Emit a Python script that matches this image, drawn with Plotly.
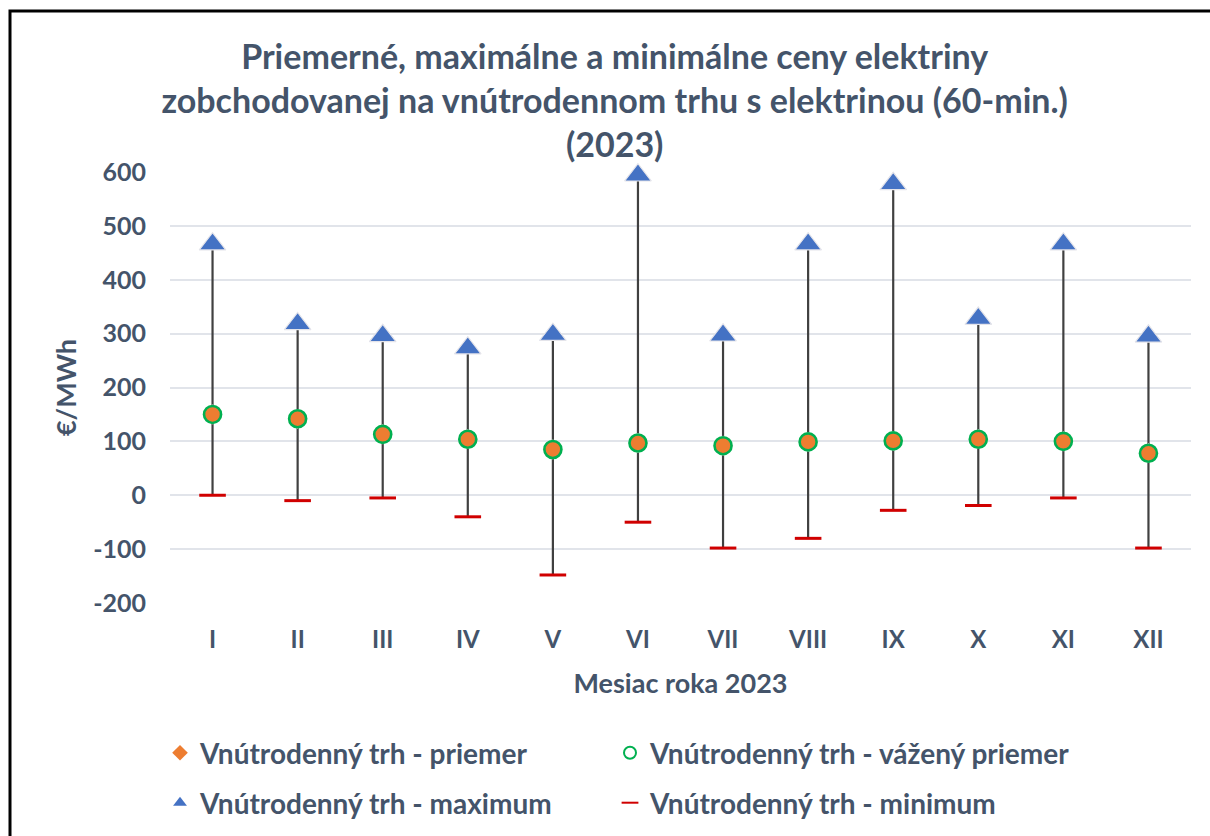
import plotly.graph_objects as go

months = ["I", "II", "III", "IV", "V", "VI", "VII", "VIII", "IX", "X", "XI", "XII"]
avg_price = [150, 142, 113, 104, 85, 97, 92, 99, 101, 104, 100, 78]
weighted_avg = [150, 142, 113, 104, 85, 97, 92, 99, 101, 104, 100, 78]
max_price = [466, 318, 296, 273, 298, 594, 297, 466, 578, 328, 466, 295]
min_price = [0, -10, -5, -40, -148, -50, -98, -80, -28, -19, -5, -98]
y_ticks = [-200, -100, 0, 100, 200, 300, 400, 500, 600]
y_tick_labels = ["-200", "-100", "0", "100", "200", "300", "400", "500", "600"]

title_text = ("Priemerné, maximálne a minimálne ceny elektriny<br>"
              "zobchodovanej na vnútrodennom trhu s elektrinou (60-min.)<br>(2023)")
names = ["Vnútrodenný trh - priemer", "Vnútrodenný trh - vážený priemer",
         "Vnútrodenný trh - maximum", "Vnútrodenný trh - minimum"]

FONT = "Lato"
TXT = "#44546A"

W, H = 1210, 836
ML, MR, MT, MB = 170, 19, 172, 233

fig = go.Figure()

# high-low lines
fig.add_trace(go.Scatter(
    x=months, y=min_price, mode="markers",
    marker=dict(size=1, color="rgba(0,0,0,0)"),
    error_y=dict(type="data", symmetric=False,
                 array=[mx - mn for mx, mn in zip(max_price, min_price)],
                 arrayminus=[0] * len(months),
                 width=0, thickness=2.2, color="#404040"),
    showlegend=False, hoverinfo="skip", cliponaxis=False))

# average (orange)
fig.add_trace(go.Scatter(
    x=months, y=avg_price, mode="markers",
    marker=dict(symbol="diamond", size=15, color="#ED7D31",
                line=dict(width=1, color="#F2F2F2")),
    showlegend=False, name=names[0], cliponaxis=False))
fig.add_trace(go.Scatter(
    x=months, y=avg_price, mode="markers",
    marker=dict(symbol="circle", size=16, color="#ED7D31", line=dict(width=0)),
    showlegend=False, hoverinfo="skip", cliponaxis=False))
# weighted average ring
fig.add_trace(go.Scatter(
    x=months, y=weighted_avg, mode="markers",
    marker=dict(symbol="circle-open", size=17, color="#00B050", line=dict(width=2.6, color="#00B050")),
    showlegend=False, name=names[1], cliponaxis=False))
# max
fig.add_trace(go.Scatter(
    x=months, y=max_price, mode="markers",
    marker=dict(symbol="triangle-up", size=23, color="#4472C4",
                line=dict(width=1.2, color="#E4E4EA")),
    showlegend=False, name=names[2], cliponaxis=False))
# min
fig.add_trace(go.Scatter(
    x=months, y=min_price, mode="markers",
    marker=dict(symbol="line-ew", size=19, color="#D00000",
                line=dict(width=3, color="#D00000")),
    showlegend=False, name=names[3], cliponaxis=False))

# legend entries (one legend per entry, placed in a 2x2 grid)
fig.add_trace(go.Scatter(x=[None], y=[None], mode="markers", name=names[0], legend="legend",
                         marker=dict(symbol="diamond", size=10, color="#ED7D31")))
fig.add_trace(go.Scatter(x=[None], y=[None], mode="markers", name=names[1], legend="legend2",
                         marker=dict(symbol="circle-open", size=12, color="#00B050",
                                     line=dict(width=2, color="#00B050"))))
fig.add_trace(go.Scatter(x=[None], y=[None], mode="markers", name=names[2], legend="legend3",
                         marker=dict(symbol="triangle-up", size=11, color="#4472C4")))
fig.add_trace(go.Scatter(x=[None], y=[None], mode="markers", name=names[3], legend="legend4",
                         marker=dict(symbol="line-ew", size=10, color="#D00000",
                                     line=dict(width=2.5, color="#D00000"))))

pw = W - ML - MR
ph = H - MT - MB
def px_x(p):
    return (p - ML) / pw
def px_y(p):
    return (H - MB - p) / ph

fig.add_shape(type="path", xref="paper", yref="paper",
              path=f"M {px_x(10)} {px_y(H + 20)} L {px_x(10)} {px_y(11)} L {px_x(W + 20)} {px_y(11)}",
              line=dict(color="#000000", width=3))

LEG_FONT = dict(family=FONT, size=28, color=TXT, weight="bold")
def legend_cfg(xleft, ycenter):
    return dict(orientation="h", x=px_x(xleft), xanchor="left", y=px_y(ycenter), yanchor="middle",
                font=LEG_FONT, itemsizing="constant", bgcolor="rgba(0,0,0,0)")

fig.update_layout(
    width=W, height=H,
    margin=dict(l=ML, r=MR, t=MT, b=MB, autoexpand=False),
    paper_bgcolor="white", plot_bgcolor="white",
    font=dict(family=FONT, color=TXT),
    title=dict(text=title_text, x=0.508, xanchor="center", xref="container",
               y=1 - 69 / H, yanchor="top", yref="container",
               font=dict(family=FONT, size=34, color=TXT, weight="bold")),
    xaxis=dict(type="category", categoryorder="array", categoryarray=months,
               range=[-0.5, len(months) - 0.5], autorange=False,
               showgrid=False, zeroline=False, showline=False, ticks="", automargin=False,
               ticklabelstandoff=20,
               tickfont=dict(family=FONT, size=24, color=TXT, weight="bold"),
               title=dict(text="Mesiac roka 2023", standoff=22,
                          font=dict(family=FONT, size=27, color=TXT, weight="bold"))),
    yaxis=dict(range=[-200, 600], autorange=False, tickmode="array",
               tickvals=y_ticks, ticktext=y_tick_labels,
               showgrid=True, gridcolor="#E1E4EA", gridwidth=1.5,
               zeroline=False, showline=False, ticks="", ticklabelstandoff=23, automargin=False,
               tickfont=dict(family=FONT, size=25, color=TXT, weight="bold"),
               title=dict(text="€/MWh", standoff=8,
                          font=dict(family=FONT, size=27, color=TXT, weight="bold"))),
    legend=legend_cfg(160, 753),
    legend2=legend_cfg(610, 753),
    legend3=legend_cfg(160, 803),
    legend4=legend_cfg(610, 803),
    showlegend=True,
)

fig.write_html("out.html", config={"displayModeBar": False},
               post_script="document.body.style.margin='0';document.body.style.overflow='hidden';")
